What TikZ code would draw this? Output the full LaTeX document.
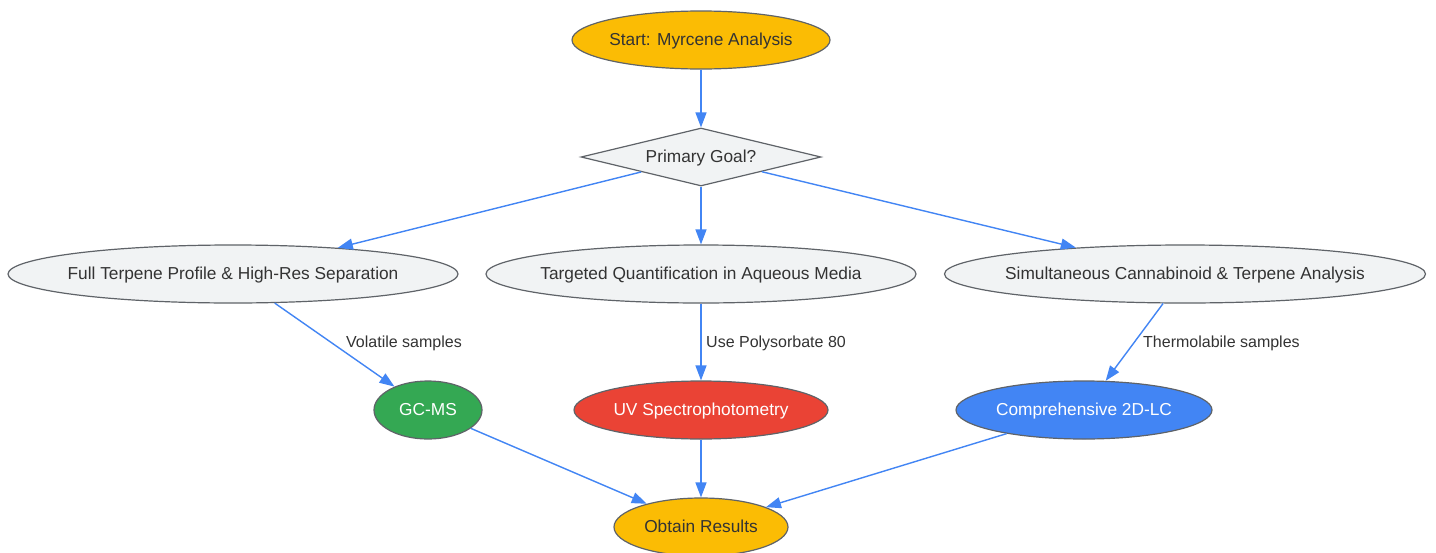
\documentclass[tikz,border=0pt]{standalone}
\usepackage{fontspec}
\setmainfont{Liberation Sans}
\usetikzlibrary{shapes.geometric,arrows.meta}
\definecolor{gyellow}{HTML}{FBBC04}
\definecolor{ggreen}{HTML}{34A853}
\definecolor{gred}{HTML}{EA4335}
\definecolor{gblue}{HTML}{4285F4}
\definecolor{glight}{HTML}{F1F3F4}
\definecolor{gstroke}{HTML}{5F6368}
\definecolor{gtext}{HTML}{333333}
\tikzset{
  ell/.style={ellipse, draw=gstroke, line width=1.2pt, inner xsep=-40pt, inner ysep=0pt, minimum height=58pt, font=\fontsize{17.3}{20}\selectfont, text=gtext, text depth=1pt},
  dia/.style={diamond, draw=gstroke, line width=1.2pt, fill=glight, inner sep=0pt, minimum width=240pt, minimum height=58pt, aspect=4, font=\fontsize{17.3}{20}\selectfont, text=gtext, text depth=1pt},
  conn/.style={draw=gblue, line width=1.4pt, -{Triangle[length=15pt,width=11pt]}},
  elab/.style={font=\fontsize{16}{19}\selectfont, text=gtext, anchor=west, inner sep=0pt}
}
\begin{document}
\begin{tikzpicture}[x=1pt,y=-1pt]
\useasboundingbox[fill=white] (0,0) rectangle (1436,552);
\node[ell, fill=gyellow, minimum width=258pt] (start) at (701,40) {Start: Myrcene Analysis};
\node[dia] (goal) at (701,157) {Primary Goal?};
\node[ell, fill=glight, minimum width=450pt] (full) at (233,274) {Full Terpene Profile \& High-Res Separation};
\node[ell, fill=glight, minimum width=430pt] (targ) at (701,274) {Targeted Quantification in Aqueous Media};
\node[ell, fill=glight, minimum width=481pt] (simu) at (1185,274) {Simultaneous Cannabinoid \& Terpene Analysis};
\node[ell, fill=ggreen, text=white, minimum width=108pt] (gcms) at (428,410) {GC-MS};
\node[ell, fill=gred, text=white, minimum width=254pt] (uv) at (701,410) {UV Spectrophotometry};
\node[ell, fill=gblue, text=white, minimum width=256pt] (lc) at (1084,410) {Comprehensive 2D-LC};
\node[ell, fill=gyellow, minimum width=174pt] (res) at (701,527) {Obtain Results};

\draw[conn] (start) -- (goal);
\draw[conn] (goal) -- (full);
\draw[conn] (goal) -- (targ);
\draw[conn] (goal) -- (simu);
\draw[conn] (full) -- (gcms);
\draw[conn] (targ) -- (uv);
\draw[conn] (simu) -- (lc);
\draw[conn] (gcms) -- (res);
\draw[conn] (uv) -- (res);
\draw[conn] (lc) -- (res);

\node[elab] (l1) at (346,343) {Volatile samples};
\node[elab] (l2) at (706,343) {Use Polysorbate 80};
\node[elab] (l3) at (1143,343) {Thermolabile samples};
\end{tikzpicture}
\end{document}
